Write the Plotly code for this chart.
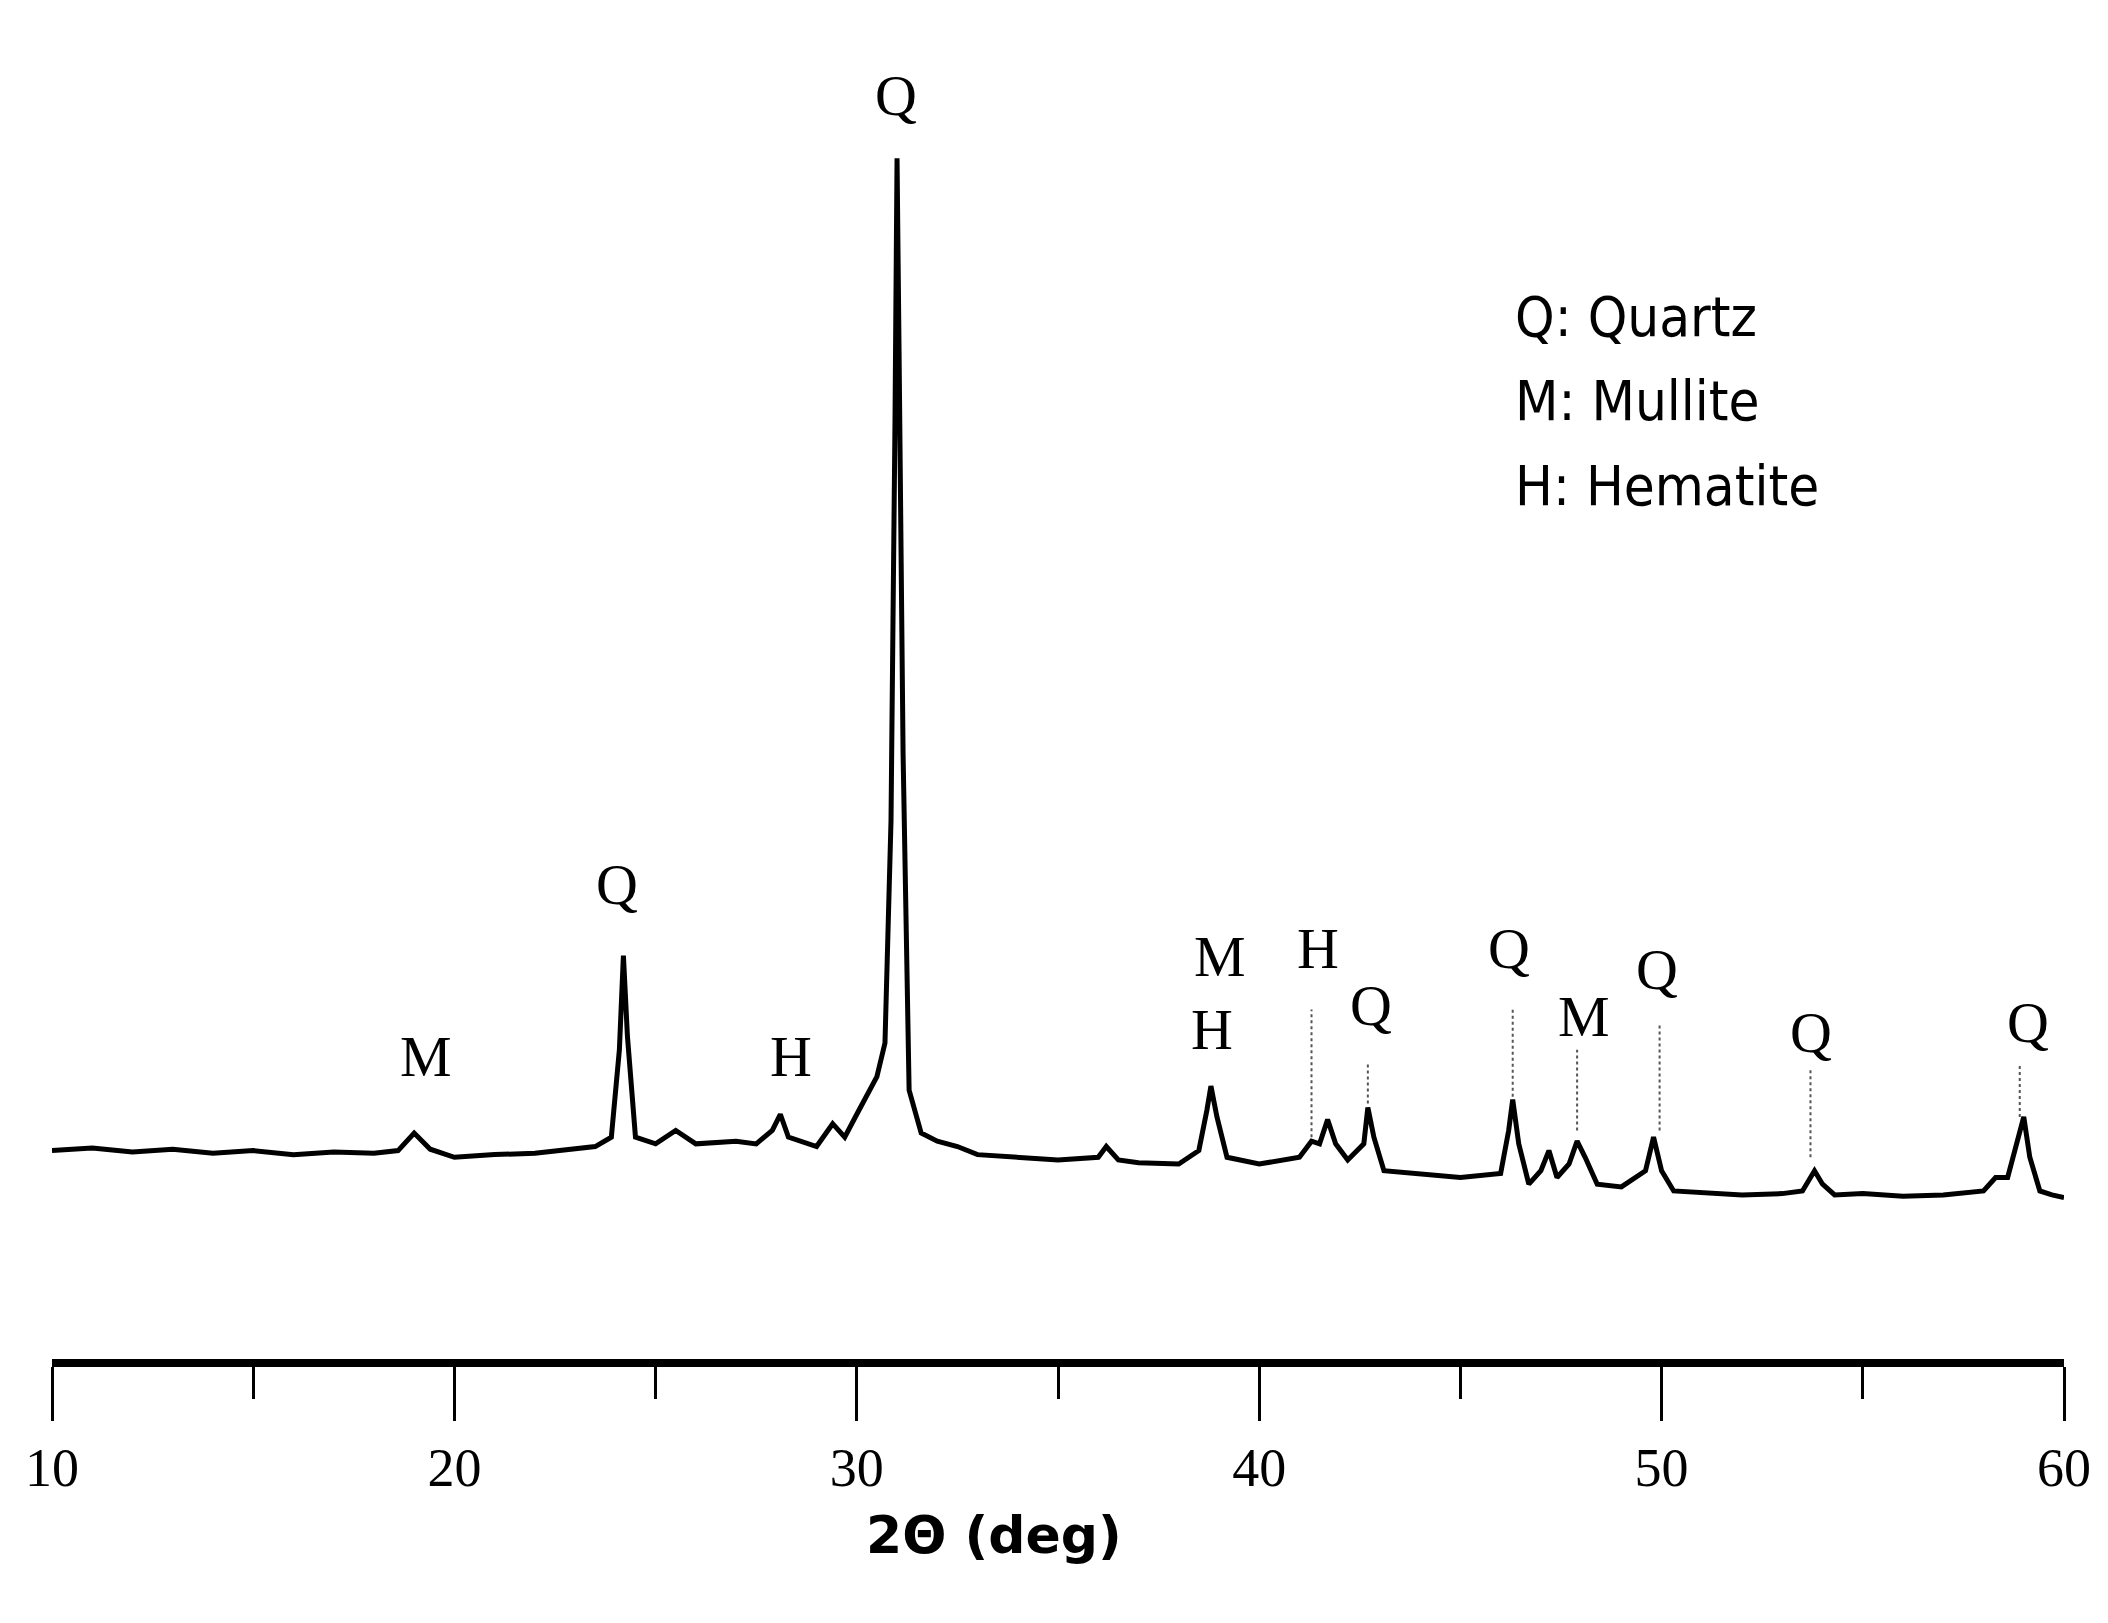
import plotly.graph_objects as go

two_theta = [10,11,12,13,14,15,16,17,18,18.6,19,19.4,20,21,22,23,23.5,23.9,24.1,24.2,24.3,24.5,25,25.5,26,27,27.5,27.9,28.1,28.3,29,29.4,29.7,30,30.5,30.7,30.85,30.95,31.0,31.05,31.15,31.3,31.6,32,32.5,33,34,35,36,36.2,36.5,37,38,38.5,38.7,38.8,38.95,39.2,40,41,41.3,41.5,41.7,41.9,42.2,42.6,42.7,42.85,43.1,44,45,46,46.2,46.3,46.45,46.7,47,47.2,47.4,47.7,47.9,48.1,48.4,49,49.6,49.8,50,50.3,51,52,53,53.5,53.8,54,54.3,55,56,57,58,58.3,58.6,58.9,59,59.15,59.4,59.7,60]
intensity = [155,157,154,156,153,155,152,154,153,155,168,156,150,152,153,156,158,165,230,300,240,165,160,170,160,162,160,170,182,165,158,175,165,182,210,235,400,700,893,750,450,200,168,162,158,152,150,148,150,158,148,146,145,155,185,203,180,150,145,150,162,160,178,160,148,160,187,165,140,138,135,138,170,193,160,130,140,155,135,145,162,150,130,128,140,165,140,125,124,122,123,125,140,130,122,123,121,122,125,135,135,170,180,150,125,122,120]

peak_labels = ["M","Q","H","Q","M","H","H","Q","Q","M","Q","Q","Q"]
label_x = [19.29,24.03,28.37,30.98,39.02,38.82,41.46,42.77,46.2,48.08,49.88,53.72,59.1]
label_y = [225,353,225,940,299,245,305,263,305,255,290,243,250]

guide_x = [41.3,42.7,46.3,47.9,49.95,53.7,58.9]
guide_top = [260,220,260,230,250,215,220]
guide_bottom = [165,190,195,170,170,150,180]

legend_lines = ["Q: Quartz","M: Mullite","H: Hematite"]
legend_y = [775,713,650]

fig = go.Figure()
fig.add_trace(go.Scatter(x=two_theta, y=intensity, mode="lines",
                         line=dict(color="black", width=5), showlegend=False, cliponaxis=False))
for gx, gt, gb in zip(guide_x, guide_top, guide_bottom):
    fig.add_trace(go.Scatter(x=[gx,gx], y=[gb,gt], mode="lines",
                             line=dict(color="#555", width=2, dash="dot"), showlegend=False))

for t, x, y in zip(peak_labels, label_x, label_y):
    fig.add_annotation(x=x, y=y, text=t, showarrow=False,
                       font=dict(family="Liberation Serif", size=58, color="black"))
for t, y in zip(legend_lines, legend_y):
    fig.add_annotation(x=46.3, y=y, text=t, showarrow=False, xanchor="left",
                       font=dict(family="DejaVu Sans Condensed, DejaVu Sans", size=56, color="black"))

fig.add_annotation(x=33.4, y=0, yref="paper", yshift=-208, text="<b>2Θ (deg)</b>", showarrow=False,
                   font=dict(family="DejaVu Sans", size=52, color="black"))

fig.update_layout(
    width=2108, height=1623, plot_bgcolor="white", paper_bgcolor="white",
    margin=dict(l=44, r=52, t=40, b=272),
    xaxis=dict(range=[10,60], dtick=10, tick0=10, ticks="outside", ticklen=54, tickwidth=3,
               tickcolor="black", showline=True, linecolor="black", linewidth=8, showgrid=False,
               zeroline=False, tickfont=dict(family="Liberation Serif", size=54, color="black"),
               minor=dict(dtick=5, ticklen=32, tickwidth=3, tickcolor="black", ticks="outside")),
    yaxis=dict(range=[0,975], visible=False),
)
fig.write_html("out.html")
